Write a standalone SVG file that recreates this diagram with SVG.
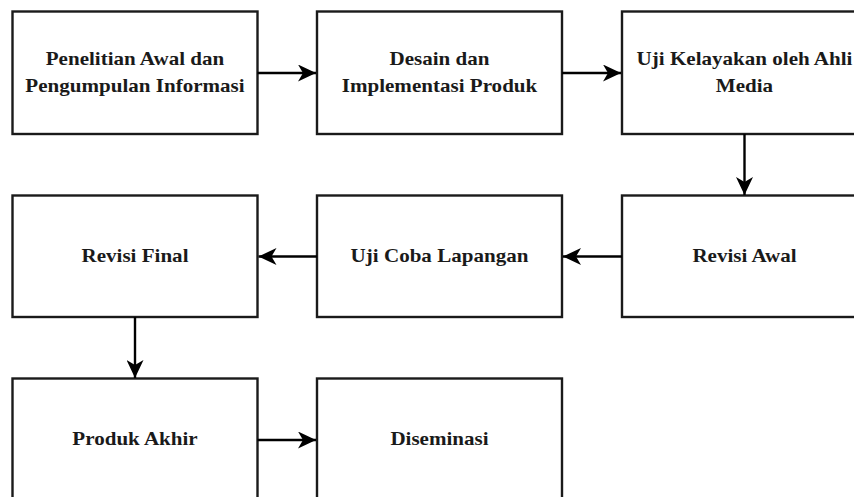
<svg xmlns="http://www.w3.org/2000/svg" width="854" height="497" viewBox="0 0 854 497">
<style>
.box{fill:#fff;stroke:#1a1a1a;stroke-width:2.4}
.lbl{font-family:"Liberation Serif","Times New Roman",serif;font-weight:bold;font-size:18px;fill:#1a1a1a;text-anchor:middle}
.edge{fill:none;stroke:#000;stroke-width:2.4}
</style>
<defs>
<marker id="arr" viewBox="0 0 18 17" refX="18" refY="8.5" markerWidth="18" markerHeight="17" markerUnits="userSpaceOnUse" orient="auto">
<path d="M0,0 L18,8.5 L0,17 L5,8.5 Z" fill="#000"/>
</marker>
</defs>
<rect width="854" height="497" fill="#fff"/>
<g id="n1"><rect class="box" x="12.5" y="11.5" width="245" height="122.5"/><text class="lbl" transform="translate(135 65) scale(1.17 1)">Penelitian Awal dan</text><text class="lbl" transform="translate(135 92) scale(1.17 1)">Pengumpulan Informasi</text></g>
<g id="n2"><rect class="box" x="317" y="11.5" width="245" height="122.5"/><text class="lbl" transform="translate(439.5 65) scale(1.17 1)">Desain dan</text><text class="lbl" transform="translate(439.5 92) scale(1.17 1)">Implementasi Produk</text></g>
<g id="n3"><rect class="box" x="622" y="11.5" width="245" height="122.5"/><text class="lbl" transform="translate(744.5 65) scale(1.17 1)">Uji Kelayakan oleh Ahli</text><text class="lbl" transform="translate(744.5 92) scale(1.17 1)">Media</text></g>
<g id="n4"><rect class="box" x="622" y="195.5" width="245" height="121.5"/><text class="lbl" transform="translate(744.5 262) scale(1.17 1)">Revisi Awal</text></g>
<g id="n5"><rect class="box" x="317" y="195.5" width="245" height="121.5"/><text class="lbl" transform="translate(439.5 262) scale(1.17 1)">Uji Coba Lapangan</text></g>
<g id="n6"><rect class="box" x="12.5" y="195.5" width="245" height="121.5"/><text class="lbl" transform="translate(135 262) scale(1.17 1)">Revisi Final</text></g>
<g id="n7"><rect class="box" x="12.5" y="378.5" width="245" height="122.5"/><text class="lbl" transform="translate(135 445) scale(1.17 1)">Produk Akhir</text></g>
<g id="n8"><rect class="box" x="317" y="378.5" width="245" height="122.5"/><text class="lbl" transform="translate(439.5 445) scale(1.17 1)">Diseminasi</text></g>
<g id="edges">
<line class="edge" x1="257.5" y1="73" x2="316" y2="73" marker-end="url(#arr)"/>
<line class="edge" x1="562" y1="73" x2="621" y2="73" marker-end="url(#arr)"/>
<line class="edge" x1="744.5" y1="134" x2="744.5" y2="195" marker-end="url(#arr)"/>
<line class="edge" x1="622" y1="256.5" x2="563" y2="256.5" marker-end="url(#arr)"/>
<line class="edge" x1="317" y1="256.5" x2="258.5" y2="256.5" marker-end="url(#arr)"/>
<line class="edge" x1="135" y1="317" x2="135" y2="378" marker-end="url(#arr)"/>
<line class="edge" x1="257.5" y1="440" x2="316" y2="440" marker-end="url(#arr)"/>
</g>
</svg>
